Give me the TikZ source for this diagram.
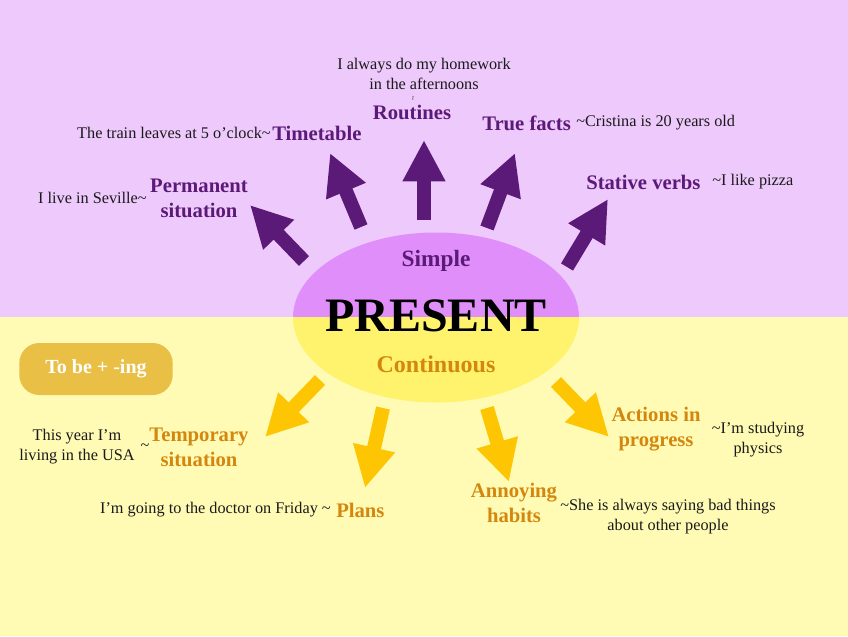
\documentclass[tikz,border=0pt]{standalone}
\usepackage{fontspec}
\setmainfont{Liberation Serif}
\usetikzlibrary{arrows.meta}
\definecolor{bgtop}{HTML}{EEC9FC}
\definecolor{bgbot}{HTML}{FFFBB4}
\definecolor{elltop}{HTML}{E08EF9}
\definecolor{ellbot}{HTML}{FFF36E}
\definecolor{purp}{HTML}{5C1A78}
\definecolor{orng}{HTML}{D4870E}
\definecolor{yarr}{HTML}{FDC502}
\definecolor{boxc}{HTML}{E9BF45}
\definecolor{txt}{HTML}{1A1A1A}
\tikzset{
  fatarrow/.style={line width=10.5pt, -{Triangle[width=30pt 0 0,length=31pt 0 0]}},
  parrow/.style={fatarrow, draw=purp},
  yarrow/.style={fatarrow, draw=yarr},
  ptitle/.style={inner sep=0pt, text=purp, font=\fontsize{15.5}{18.75}\selectfont\bfseries, align=center},
  otitle/.style={inner sep=0pt, text=orng, font=\fontsize{15.5}{18.75}\selectfont\bfseries, align=center},
  example/.style={inner sep=0pt, text=txt, font=\fontsize{12.2}{15}\selectfont, align=center}
}
\begin{document}
\begin{tikzpicture}[x=0.75pt,y=-0.75pt]
\useasboundingbox (0,0) rectangle (848,636);
% backgrounds
\fill[bgtop] (0,0) rectangle (848,317);
\fill[bgbot] (0,317) rectangle (848,636);
% central ellipse
\begin{scope}
  \clip (0,0) rectangle (848,317);
  \fill[elltop] (436,317.5) ellipse [x radius=143, y radius=85];
\end{scope}
\begin{scope}
  \clip (0,317) rectangle (848,636);
  \fill[ellbot] (436,317.5) ellipse [x radius=143, y radius=85];
\end{scope}
\node[inner sep=0pt, text=purp, font=\fontsize{17.5}{20}\selectfont\bfseries] (simple) at (436,261) {Simple};
\node[inner sep=0pt, text=black, font=\fontsize{36}{40}\selectfont\bfseries] (present) at (436,316) {PRESENT};
\node[inner sep=0pt, text=orng, font=\fontsize{18}{20}\selectfont\bfseries] (cont) at (436,364) {Continuous};

% arrow coordinates
\coordinate (t1) at (304,261); \coordinate (h1) at (250,205);
\coordinate (t2) at (361,227); \coordinate (h2) at (330,153);
\coordinate (t3) at (424,220); \coordinate (h3) at (424,140);
\coordinate (t4) at (487,228); \coordinate (h4) at (515,153);
\coordinate (t5) at (567,267); \coordinate (h5) at (608,199);
\coordinate (t6) at (320,380); \coordinate (h6) at (265,437);
\coordinate (t7) at (383,408); \coordinate (h7) at (365,488);
\coordinate (t8) at (487,408); \coordinate (h8) at (509,482);
\coordinate (t9) at (556,382); \coordinate (h9) at (609,437);
\draw[parrow] (t1) -- (h1);
\draw[parrow] (t2) -- (h2);
\draw[parrow] (t3) -- (h3);
\draw[parrow] (t4) -- (h4);
\draw[parrow] (t5) -- (h5);
\draw[yarrow] (t6) -- (h6);
\draw[yarrow] (t7) -- (h7);
\draw[yarrow] (t8) -- (h8);
\draw[yarrow] (t9) -- (h9);

% Simple uses
\node[example] (homework) at (424,74) {I always do my homework\\in the afternoons};
\node[inner sep=0pt, text=txt, font=\fontsize{6}{6}\selectfont, rotate=90] (hwtilde) at (414,98) {\textasciitilde};
\node[ptitle] (routines) at (412,112) {Routines};
\node[ptitle, anchor=west] (timetable) at (272,133) {Timetable};
\node[example, anchor=east] (train) at (271,133) {The train leaves at 5 o’clock\textasciitilde};
\node[ptitle] (permanent) at (199,198) {Permanent\\situation};
\node[example, anchor=east] (seville) at (147,198) {I live in Seville\textasciitilde};
\node[ptitle, anchor=west] (truefacts) at (482,123) {True facts};
\node[example, anchor=west] (cristina) at (576,123) {\textasciitilde Cristina is 20 years old};
\node[ptitle, anchor=west] (stative) at (586,182) {Stative verbs};
\node[example, anchor=west] (pizza) at (712,182) {\textasciitilde I like pizza};

% Continuous uses
\node[inner sep=0pt, fill=boxc, rounded corners=15pt, minimum width=115pt, minimum height=39pt, text=white, font=\fontsize{15}{17}\selectfont\bfseries] (tobe) at (96,369) {To be + -ing};
\node[otitle] (temporary) at (199,447) {Temporary\\situation};
\node[example] (usa) at (77,447) {This year I’m\\living in the USA};
\node[example] (usatilde) at (145,447) {\textasciitilde};
\node[otitle, anchor=west] (plans) at (336,510) {Plans};
\node[example, anchor=east] (doctor) at (331,510) {I’m going to the doctor on Friday \textasciitilde};
\node[otitle] (actions) at (656,429) {Actions in\\progress};
\node[example] (studying) at (758,440) {\textasciitilde I’m studying\\physics};
\node[otitle] (annoying) at (514,503) {Annoying\\habits};
\node[example] (saying) at (668,517) {\textasciitilde She is always saying bad things\\about other people};
\end{tikzpicture}
\end{document}
